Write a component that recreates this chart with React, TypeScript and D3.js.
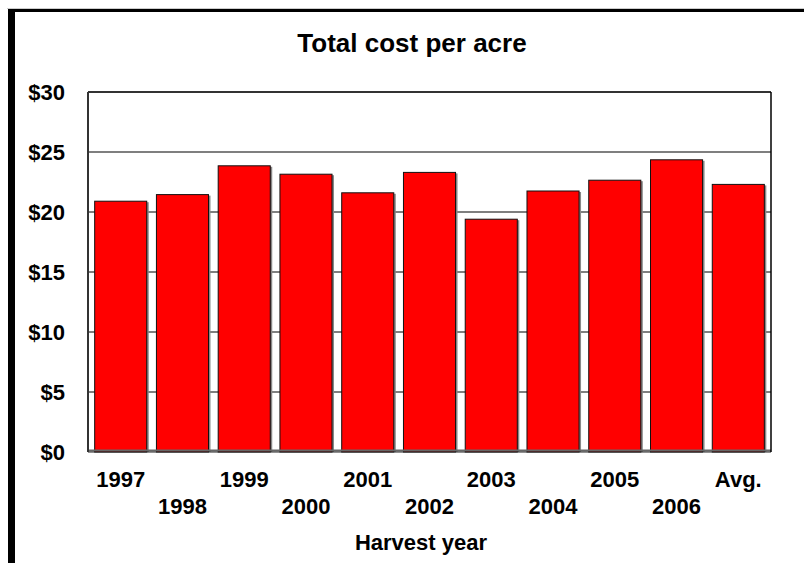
import * as d3 from 'd3';
import { FunctionComponent } from "react";

const categories = ['1997', '1998', '1999', '2000', '2001', '2002', '2003', '2004', '2005', '2006', 'Avg.'];
const costs = [20.9, 21.45, 23.85, 23.15, 21.6, 23.3, 19.4, 21.75, 22.65, 24.35, 22.3];
const yTicks = [0, 5, 10, 15, 20, 25, 30];

const App: FunctionComponent = () => {
    const width = 804;
    const height = 563;
    const plot = { left: 88, right: 771, top: 92, bottom: 452 };
    const font = '"Liberation Sans", Arial, sans-serif';

    const x = d3.scaleBand<string>()
        .domain(categories)
        .range([plot.left, plot.right])
        .paddingInner(0.157)
        .paddingOuter(0.108);

    const y = d3.scaleLinear([0, 30], [plot.bottom, plot.top]);

    return <svg width={width} height={height} viewBox={`0 0 ${width} ${height}`}
        style={{ position: 'absolute', left: 0, top: 0, background: '#fff' }}>
        {/* outer frame */}
        <line x1={7} y1={8.5} x2={width} y2={8.5} stroke="#ccc" strokeWidth={1} />
        <line x1={11.5} y1={10.5} x2={width} y2={10.5} stroke="#000" strokeWidth={3} />
        <line x1={11.5} y1={9} x2={11.5} y2={height} stroke="#000" strokeWidth={7} />

        <text x={412} y={52} textAnchor="middle" fontFamily={font} fontWeight="bold" fontSize={26}>
            Total cost per acre
        </text>

        {/* gridlines */}
        {yTicks.filter(t => t > 0 && t < 30).map(t =>
            <line key={t} x1={plot.left} x2={plot.right} y1={y(t)} y2={y(t)} stroke="#555" strokeWidth={1.5} />
        )}

        {/* bars */}
        {categories.map((c, i) => {
            const bx = x(c)!;
            const by = y(costs[i]);
            return <g key={c}>
                <rect x={bx + 2} y={by + 1} width={x.bandwidth()} height={plot.bottom - by - 1} fill="#888" />
                <rect x={bx} y={by} width={x.bandwidth()} height={plot.bottom - by} fill="#ff0000" stroke="#111" strokeWidth={1} />
            </g>;
        })}

        {/* floor */}
        <line x1={plot.left} x2={plot.right} y1={plot.bottom - 1.5} y2={plot.bottom - 1.5} stroke="#666" strokeWidth={2} />
        <line x1={plot.left} x2={plot.right} y1={plot.bottom} y2={plot.bottom} stroke="#222" strokeWidth={1} />

        {/* plot frame */}
        <line x1={plot.left} x2={plot.right} y1={plot.top} y2={plot.top} stroke="#333" strokeWidth={2} />
        <line x1={plot.left} x2={plot.left} y1={plot.top} y2={plot.bottom} stroke="#333" strokeWidth={2} />
        <line x1={plot.right} x2={plot.right} y1={plot.top} y2={plot.bottom} stroke="#000" strokeWidth={1.5} />

        {/* y axis labels */}
        {yTicks.map(t =>
            <text key={t} x={65} y={y(t) + 8} textAnchor="end" fontFamily={font} fontWeight="bold" fontSize={22}>
                {'$' + t}
            </text>
        )}

        {/* x axis labels, staggered */}
        {categories.map((c, i) =>
            <text key={c} x={x(c)! + x.bandwidth() / 2} y={i % 2 === 0 ? 487 : 514}
                textAnchor="middle" fontFamily={font} fontWeight="bold" fontSize={22}>
                {c}
            </text>
        )}

        <text x={421} y={550} textAnchor="middle" fontFamily={font} fontWeight="bold" fontSize={22}>
            Harvest year
        </text>
    </svg>;
}

export default App;
